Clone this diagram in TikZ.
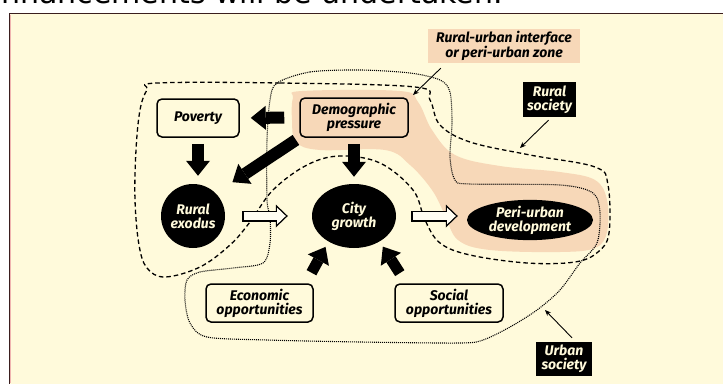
\documentclass[tikz,border=0pt]{standalone}
\usepackage{fontspec}
\setmainfont{Fira Sans}
\newfontfamily\headfont{DejaVu Sans}
\usetikzlibrary{arrows.meta,shapes.geometric,positioning}

\definecolor{cream}{HTML}{FFFADB}
\definecolor{peach}{HTML}{F7D8B8}
\definecolor{frame}{HTML}{3A1E1E}
\definecolor{holofill}{HTML}{FFFDF2}
\definecolor{edgepink}{HTML}{F0B4B0}

\begin{document}
\begin{tikzpicture}[
    x=1pt, y=-1pt,
    every node/.style={font=\itshape\bfseries\fontsize{14}{14}\selectfont},
    factor/.style={rectangle, rounded corners=5pt, draw, line width=1.5pt, inner sep=0pt, align=center},
    blob/.style={ellipse, fill=black, text=cream, inner sep=0pt, align=center},
    tag/.style={rectangle, fill=black, text=cream, inner sep=0pt, align=center},
    push/.style={line width=12pt, -{Triangle[length=15pt, width=24pt, line width=0pt]}},
    flowout/.style={line width=11pt, -{Triangle[length=12pt, width=23pt, line width=0pt]}},
    flowin/.style={line width=8.2pt, draw=holofill, -{Triangle[length=8.6pt, width=16.4pt, line width=0pt]}},
    pointer/.style={-{Stealth[length=6pt, width=5pt]}, line width=0.9pt},
    rural/.style={dash pattern=on 4.5pt off 3pt, line width=1.3pt},
    urban/.style={dash pattern=on 1pt off 1pt, line width=1.1pt}
]
\useasboundingbox (0,0) rectangle (723,383);
\clip (0,0) rectangle (723,383);

% page text above the panel
\node[anchor=base east, inner sep=0pt, font=\headfont\fontsize{30}{30}\selectfont] (headline) at (503,3) {enhancements will be undertaken.};

% panel
\draw[frame, fill=cream, line width=1pt] (9.5,13.5) rectangle (740,400);
\draw[edgepink, line width=1pt] (10.8,14.5) -- (10.8,383);

% peri-urban zone
\fill[peach] plot[smooth cycle, tension=0.6] coordinates {
    (293,98) (302,91) (400,91) (418,102) (432,130) (455,155) (500,166)
    (560,172) (595,180) (607,200) (607,232) (595,248) (560,252) (490,250)
    (458,240) (445,215) (432,190) (410,165) (385,150) (320,150) (296,142) (292,120)};

% rural society
\draw[rural] plot[smooth cycle, tension=0.6] coordinates {
    (157,83) (280,83) (415,87) (430,100) (440,125) (470,142) (530,155)
    (595,167) (608,185) (609,233) (598,252) (575,262) (527,263) (470,255)
    (440,243) (425,220) (413,190) (380,163) (340,156) (307,165) (273,190)
    (250,222) (230,245) (200,267) (165,277) (147,268) (139,245) (135,200)
    (136,150) (140,110) (147,90)};

% urban society
\draw[urban] plot[smooth cycle, tension=0.5] coordinates {
    (277,83) (310,72) (360,70) (410,73) (440,80) (450,92) (452,123)
    (450,157) (455,180) (470,184) (560,185) (593,193) (600,213) (597,243)
    (580,263) (560,290) (537,310) (510,327) (483,340) (460,343) (360,342)
    (267,340) (207,337) (190,323) (185,300) (187,280) (200,272) (233,268)
    (263,263) (270,243) (270,217) (267,200) (267,140) (270,100)};

\node[fill=peach, inner sep=0pt, align=center, minimum width=152pt, minimum height=34pt] (zonelabel) at (504,46) {Rural-urban interface\\or peri-urban zone};
\node[tag, minimum width=53pt, minimum height=35pt] (ruraltag) at (549.5,99.5) {Rural\\society};
\node[tag, minimum width=56pt, minimum height=34pt] (urbantag) at (564,359) {Urban\\society};

\node[factor, minimum width=82pt, minimum height=38pt] (pov) at (198,118) {Poverty};
\node[factor, minimum width=108pt, minimum height=39pt] (demo) at (354,117.5) {Demographic\\pressure};
\node[factor, minimum width=107pt, minimum height=38pt] (econ) at (259.5,303) {Economic\\opportunities};
\node[factor, minimum width=108pt, minimum height=38pt] (soc) at (449,303) {Social\\opportunities};

\node[blob, minimum width=64pt, minimum height=64pt] (exodus) at (193,216) {Rural\\exodus};
\node[blob, minimum width=84pt, minimum height=64pt] (city) at (354,216) {City\\growth};
\node[blob, minimum width=126pt, minimum height=38pt] (peri) at (530,220) {Peri-urban\\development};

% pressures
\draw[push, shorten <=15pt, shorten >=11pt] (demo.west) -- (pov.east);
\draw[push, shorten <=6pt, shorten >=8pt] (pov.south) -- (pov.south |- exodus.north);
\draw[push, shorten <=4pt, shorten >=20pt] (demo.south west) -- (exodus.north east);
\draw[push, shorten <=6pt, shorten >=7pt] (demo.south) -- (demo.south |- city.north);
\draw[push, line width=11pt, shorten <=12pt, shorten >=6pt] ([xshift=-8pt]econ.north east) -- (city.225);
\draw[push, line width=11pt, shorten <=12pt, shorten >=6pt] ([xshift=12pt]soc.north west) -- (city.315);

% flows
\draw[flowout, shorten <=17pt, shorten >=24pt] (exodus.east) -- (city.west);
\draw[flowin, shorten <=18.4pt, shorten >=26pt] (exodus.east) -- (city.west);
\draw[flowout, shorten <=15pt, shorten >=9pt] (city.east) -- (city.east -| peri.west);
\draw[flowin, shorten <=16.4pt, shorten >=11pt] (city.east) -- (city.east -| peri.west);

% pointers
\coordinate (zonetip) at (413,95);
\coordinate (ruraltip) at (520,148);
\coordinate (urbantip) at (545,310);
\draw[pointer] ([xshift=13pt, yshift=-5pt]zonelabel.south west) -- (zonetip);
\draw[pointer] ([xshift=-1pt, yshift=-3pt]ruraltag.south) -- (ruraltip);
\draw[pointer] ([xshift=8pt, yshift=4pt]urbantag.north) -- (urbantip);

\end{tikzpicture}
\end{document}
